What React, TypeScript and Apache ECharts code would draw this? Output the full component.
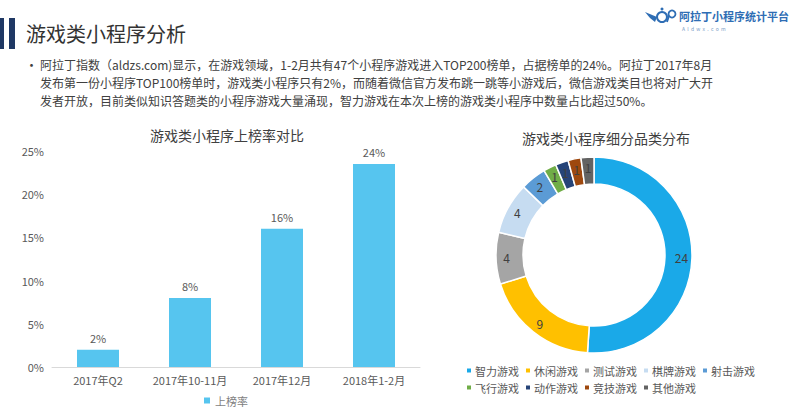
import React, { useEffect, useRef } from "react";
import * as echarts from "echarts";

const pageTitle = "游戏类小程序分析";
const paragraphLines = [
  "阿拉丁指数（aldzs.com)显示，在游戏领域，1-2月共有47个小程序游戏进入TOP200榜单，占据榜单的24%。阿拉丁2017年8月",
  "发布第一份小程序TOP100榜单时，游戏类小程序只有2%，而随着微信官方发布跳一跳等小游戏后，微信游戏类目也将对广大开",
  "发者开放，目前类似知识答题类的小程序游戏大量涌现，智力游戏在本次上榜的游戏类小程序中数量占比超过50%。",
];

const barTitle = "游戏类小程序上榜率对比";
const barSeriesName = "上榜率";
const categories = ["2017年Q2", "2017年10-11月", "2017年12月", "2018年1-2月"];
const rates = [2, 8, 16, 23.5];

const pieTitle = "游戏类小程序细分品类分布";
const pieNames = ["智力游戏", "休闲游戏", "测试游戏", "棋牌游戏", "射击游戏", "飞行游戏", "动作游戏", "竞技游戏", "其他游戏"];
const pieValues = [24, 9, 4, 4, 2, 1, 1, 1, 1];
const pieColors = ["#1AA9E8", "#FFC000", "#A5A5A5", "#C6DCF1", "#5B9BD5", "#70AD47", "#264478", "#9E480E", "#636363"];

const FONT = "'Noto Sans CJK SC', 'Noto Sans', sans-serif";

export default function App() {
  const ref = useRef<HTMLDivElement>(null);
  useEffect(() => {
    if (!ref.current) return;
    const chart = echarts.init(ref.current, null, { renderer: "svg" });
    const graphics: any[] = [
      { type: "rect", shape: { x: 0, y: 18, width: 4, height: 31 }, style: { fill: "#1F3864" } },
      { type: "rect", shape: { x: 9, y: 18, width: 6, height: 31 }, style: { fill: "#1F3864" } },
      {
        type: "text", x: 26, y: 33,
        style: { text: pageTitle, font: `20px ${FONT}`, fill: "#333333", verticalAlign: "middle" },
      },
      // logo
      { type: "circle", shape: { cx: 662, cy: 17, r: 5 }, style: { fill: "none", stroke: "#2E6DB4", lineWidth: 2 } },
      { type: "circle", shape: { cx: 662, cy: 9, r: 1.5 }, style: { fill: "#2E6DB4" } },
      { type: "polygon", shape: { points: [[645, 12], [657, 17], [655, 22], [650, 18]] }, style: { fill: "#2E6DB4" } },
      { type: "circle", shape: { cx: 672, cy: 14, r: 3.5 }, style: { fill: "none", stroke: "#2E6DB4", lineWidth: 1.8 } },
      { type: "line", shape: { x1: 669, y1: 16, x2: 667, y2: 22 }, style: { stroke: "#2E6DB4", lineWidth: 1.8 } },
      {
        type: "text", x: 679, y: 16,
        style: { text: "阿拉丁小程序统计平台", font: `bold 11px ${FONT}`, fill: "#2E6DB4", verticalAlign: "middle" },
      },
      {
        type: "text", x: 682, y: 28,
        style: { text: "A  l  d  w  x  .  c  o  m", font: `5px ${FONT}`, fill: "#7A9CC6", verticalAlign: "middle" },
      },
      {
        type: "text", x: 25, y: 64,
        style: { text: "•", font: `13px ${FONT}`, fill: "#404040", verticalAlign: "middle" },
      },
      ...paragraphLines.map((t, i) => ({
        type: "text", x: 40, y: 64 + i * 18,
        style: { text: t, font: `12px ${FONT}`, fill: "#404040", verticalAlign: "middle" },
      })),
    ];

    chart.setOption({
      animation: false,
      textStyle: { fontFamily: FONT },
      title: [
        {
          text: barTitle, left: 222, top: 130, textAlign: "center", textVerticalAlign: "middle",
          textStyle: { fontSize: 14, fontWeight: "normal", color: "#404040", fontFamily: FONT },
        },
        {
          text: pieTitle, left: 601, top: 133, textAlign: "center", textVerticalAlign: "middle",
          textStyle: { fontSize: 14, fontWeight: "normal", color: "#404040", fontFamily: FONT },
        },
      ],
      legend: [
        {
          data: [barSeriesName], left: 202, top: 393, icon: "rect", itemWidth: 6, itemHeight: 6, itemGap: 4,
          padding: 2,
          textStyle: { fontSize: 11, color: "#7F7F7F", fontFamily: FONT },
        },
        {
          data: pieNames.slice(0, 5), left: 463, top: 363, icon: "rect", itemWidth: 6, itemHeight: 6, itemGap: 5,
          padding: 2,
          textStyle: { fontSize: 11, color: "#595959", fontFamily: FONT, padding: [0, 0, 0, -2] },
        },
        {
          data: pieNames.slice(5), left: 463, top: 380, icon: "rect", itemWidth: 6, itemHeight: 6, itemGap: 5,
          padding: 2,
          textStyle: { fontSize: 11, color: "#595959", fontFamily: FONT, padding: [0, 0, 0, -2] },
        },
      ],
      grid: { left: 52, top: 151, width: 368, height: 216, containLabel: false },
      xAxis: {
        type: "category", data: categories,
        axisLine: { lineStyle: { color: "#D9D9D9" } },
        axisTick: { show: false },
        axisLabel: { color: "#595959", fontSize: 11, margin: 7, fontFamily: FONT, interval: 0 },
      },
      yAxis: {
        type: "value", min: 0, max: 25, interval: 5,
        axisLine: { show: false }, axisTick: { show: false }, splitLine: { show: false },
        axisLabel: { formatter: "{value}%", color: "#595959", fontSize: 11, margin: 8, fontFamily: FONT },
      },
      series: [
        {
          type: "bar", name: barSeriesName, data: rates, barWidth: 42,
          itemStyle: { color: "#56C5EF" },
          label: {
            show: true, position: "top", distance: 6, color: "#595959", fontSize: 11,
            formatter: (p: any) => Math.round(p.value) + "%",
          },
        },
        {
          type: "pie", name: "品类", center: [594, 255], radius: [71, 98], startAngle: 90, clockwise: true,
          avoidLabelOverlap: false,
          data: pieNames.map((n, i) => ({ name: n, value: pieValues[i], itemStyle: { color: pieColors[i] } })),
          itemStyle: { borderColor: "#FFFFFF", borderWidth: 1.5 },
          label: { show: true, position: "inside", formatter: "{c}", color: "#404040", fontSize: 12, fontFamily: FONT },
          labelLine: { show: false },
          emphasis: { disabled: true },
        },
      ],
      graphic: graphics,
    });
    return () => chart.dispose();
  }, []);
  return (
    <div
      ref={ref}
      style={{ position: "fixed", left: 0, top: 0, width: 800, height: 412, background: "#FFFFFF" }}
    />
  );
}
